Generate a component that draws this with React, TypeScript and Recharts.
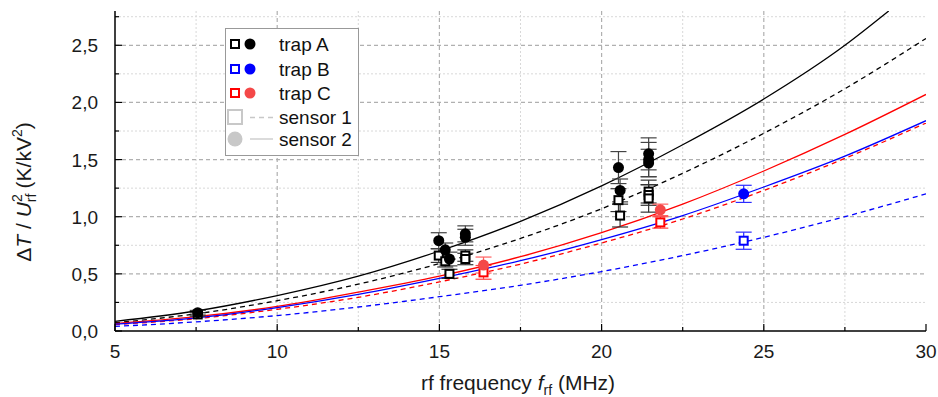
import React from 'react';
import { ComposedChart, Line, Scatter, XAxis, YAxis, ErrorBar, CartesianGrid } from 'recharts';

const W = 938;
const H = 397;
const FONT = '"Liberation Sans", Arial, sans-serif';

// fit curves, every 2.5 MHz (value in K/kV^2)
const FIT_F = [5, 7.5, 10, 12.5, 15, 17.5, 20, 22.5, 25, 27.5, 30];
const FIT_F_A2 = [5, 7.5, 10, 12.5, 15, 17.5, 20, 22.5, 25, 27.5, 28.85]; // leaves the frame at ~28.85
const FIT_A_S2 = [0.085, 0.175, 0.31, 0.48, 0.7, 0.96, 1.27, 1.63, 2.03, 2.5, 2.8];
const FIT_A_S1 = [0.072, 0.15, 0.265, 0.41, 0.59, 0.81, 1.07, 1.38, 1.73, 2.12, 2.56];
const FIT_C_S2 = [0.065, 0.125, 0.215, 0.34, 0.48, 0.65, 0.86, 1.11, 1.4, 1.72, 2.07];
const FIT_B_S2 = [0.06, 0.115, 0.205, 0.32, 0.46, 0.615, 0.8, 1.01, 1.26, 1.53, 1.84];
const FIT_C_S1 = [0.056, 0.108, 0.19, 0.295, 0.43, 0.585, 0.77, 0.98, 1.23, 1.51, 1.82];
const FIT_B_S1 = [0.04, 0.08, 0.135, 0.21, 0.3, 0.4, 0.52, 0.66, 0.82, 1.0, 1.2];

// measured points: [f, value, error]
const TRAP_A_S1 = [
  [7.55, 0.145, 0.015], [14.98, 0.66, 0.06], [15.18, 0.61, 0.05], [15.31, 0.5, 0.04],
  [15.8, 0.66, 0.05], [15.8, 0.63, 0.05], [20.52, 1.145, 0.1], [20.57, 1.01, 0.1],
  [21.45, 1.22, 0.1], [21.45, 1.19, 0.09], [21.45, 1.16, 0.12],
];
const TRAP_A_S2 = [
  [7.55, 0.16, 0.02], [14.98, 0.79, 0.07], [15.18, 0.71, 0.06], [15.31, 0.63, 0.06],
  [15.8, 0.85, 0.07], [15.8, 0.82, 0.07], [20.52, 1.43, 0.14], [20.57, 1.23, 0.1],
  [21.45, 1.55, 0.14], [21.45, 1.5, 0.15], [21.45, 1.47, 0.12],
];
const TRAP_B_S1 = [[24.38, 0.79, 0.075]];
const TRAP_B_S2 = [[24.38, 1.2, 0.075]];
const TRAP_C_S1 = [[16.36, 0.513, 0.06], [21.81, 0.95, 0.05]];
const TRAP_C_S2 = [[16.36, 0.577, 0.07], [21.81, 1.06, 0.05]];

const X_TICKS = [5, 7.5, 10, 12.5, 15, 17.5, 20, 22.5, 25, 27.5, 30];
const X_MAJOR = [5, 10, 15, 20, 25, 30];
const Y_TICKS = [0, 0.25, 0.5, 0.75, 1, 1.25, 1.5, 1.75, 2, 2.25, 2.5, 2.75];
const Y_MAJOR = [0, 0.5, 1, 1.5, 2, 2.5];

const BLACK = '#000000';
const BLUE = '#0000ff';
const RED = '#ff0000';
const RED_DOT = '#f44848';
const GRAY = '#c8c8c8';

const rows = (fs: number[], vs: number[]) => fs.map((f, i) => ({ f, v: vs[i] }));
const pts = (list: number[][]) => list.map(([f, v, e]) => ({ f, v, e }));

const squareShape = (color: string) => (p: any) => (
  <rect x={p.cx - 4} y={p.cy - 4} width={8} height={8} fill="#fff" stroke={color} strokeWidth={2} />
);
const dotShape = (color: string) => (p: any) => <circle cx={p.cx} cy={p.cy} r={5.5} fill={color} />;

const isMajor = (list: number[], v: number) => list.includes(v);

function BottomTick(props: any) {
  const { x, y, payload } = props;
  const major = isMajor(X_MAJOR, payload.value);
  return (
    <g>
      <line x1={x} y1={y} x2={x} y2={y - (major ? 7 : 4)} stroke="#000" strokeWidth={1.2} />
      {major && (
        <text x={x} y={y + 27} textAnchor="middle" fontSize={19} fontFamily={FONT} fill="#1a1a1a">
          {payload.value}
        </text>
      )}
    </g>
  );
}

function TopTick(props: any) {
  const { x, y, payload } = props;
  const major = isMajor(X_MAJOR, payload.value);
  return <line x1={x} y1={y} x2={x} y2={y + (major ? 7 : 4)} stroke="#000" strokeWidth={1.2} />;
}

function LeftTick(props: any) {
  const { x, y, payload } = props;
  const major = isMajor(Y_MAJOR, payload.value);
  return (
    <g>
      <line x1={x} y1={y} x2={x + (major ? 7 : 4)} y2={y} stroke="#000" strokeWidth={1.2} />
      {major && (
        <text x={x - 17} y={y + 7} textAnchor="end" fontSize={19} fontFamily={FONT} fill="#1a1a1a">
          {payload.value.toFixed(1).replace('.', ',')}
        </text>
      )}
    </g>
  );
}

function RightTick(props: any) {
  const { x, y, payload } = props;
  const major = isMajor(Y_MAJOR, payload.value);
  return <line x1={x} y1={y} x2={x - (major ? 7 : 4)} y2={y} stroke="#000" strokeWidth={1.2} />;
}

function Overlay() {
  const legendRows = [
    { y: 44, label: 'trap A', sq: BLACK, dot: BLACK },
    { y: 69, label: 'trap B', sq: BLUE, dot: BLUE },
    { y: 93, label: 'trap C', sq: RED, dot: RED_DOT },
  ];
  return (
    <svg width={W} height={H} style={{ position: 'absolute', left: 0, top: 0, pointerEvents: 'none' }}>
      <text transform="translate(31,192) rotate(-90)" textAnchor="middle" fontSize={21} fontFamily={FONT} fill="#1a1a1a">
        <tspan>Δ</tspan>
        <tspan fontStyle="italic">T</tspan>
        <tspan> / </tspan>
        <tspan fontStyle="italic">U</tspan>
        <tspan fontSize={14} dy={5}>rf</tspan>
        <tspan fontSize={14} dx={-8.5} dy={-14}>2</tspan>
        <tspan dy={9}> (K/kV</tspan>
        <tspan fontSize={14} dy={-9}>2</tspan>
        <tspan dy={9}>)</tspan>
      </text>
      <text x={518} y={390} textAnchor="middle" fontSize={21} fontFamily={FONT} fill="#1a1a1a">
        <tspan>rf frequency </tspan>
        <tspan fontStyle="italic">f</tspan>
        <tspan fontSize={14} dy={5}>rf</tspan>
        <tspan dy={-5}> (MHz)</tspan>
      </text>

      <rect x={225.5} y={28.5} width={133} height={127} fill="#fff" stroke="#999" strokeWidth={1} />
      {legendRows.map(r => (
        <g key={r.label}>
          <rect x={231} y={r.y - 4} width={8} height={8} fill="#fff" stroke={r.sq} strokeWidth={2} />
          <circle cx={250} cy={r.y} r={5.5} fill={r.dot} />
          <text x={279} y={r.y + 7} fontSize={19} fontFamily={FONT} fill="#111">{r.label}</text>
        </g>
      ))}
      <rect x={228} y={110} width={14} height={14} fill="#fff" stroke={GRAY} strokeWidth={2} />
      <line x1={250} y1={117.5} x2={273} y2={117.5} stroke={GRAY} strokeWidth={1.3} strokeDasharray="5 4" />
      <text x={279} y={124} fontSize={19} fontFamily={FONT} fill="#111">sensor 1</text>
      <circle cx={235} cy={139} r={7.5} fill={GRAY} />
      <line x1={250} y1={139} x2={273} y2={139} stroke={GRAY} strokeWidth={1.3} />
      <text x={279} y={146} fontSize={19} fontFamily={FONT} fill="#111">sensor 2</text>
    </svg>
  );
}

const fitLines = [
  { key: 'a2', data: rows(FIT_F_A2, FIT_A_S2), color: BLACK, dash: undefined },
  { key: 'a1', data: rows(FIT_F, FIT_A_S1), color: BLACK, dash: '5 4' },
  { key: 'c2', data: rows(FIT_F, FIT_C_S2), color: RED, dash: undefined },
  { key: 'c1', data: rows(FIT_F, FIT_C_S1), color: RED, dash: '5 4' },
  { key: 'b2', data: rows(FIT_F, FIT_B_S2), color: BLUE, dash: undefined },
  { key: 'b1', data: rows(FIT_F, FIT_B_S1), color: BLUE, dash: '5 4' },
];

const pointSets = [
  { key: 'as1', data: pts(TRAP_A_S1), shape: squareShape(BLACK), err: '#333' },
  { key: 'bs1', data: pts(TRAP_B_S1), shape: squareShape(BLUE), err: '#2b2bff' },
  { key: 'cs1', data: pts(TRAP_C_S1), shape: squareShape(RED), err: '#ff4040' },
  { key: 'as2', data: pts(TRAP_A_S2), shape: dotShape(BLACK), err: '#444' },
  { key: 'bs2', data: pts(TRAP_B_S2), shape: dotShape(BLUE), err: '#2b2bff' },
  { key: 'cs2', data: pts(TRAP_C_S2), shape: dotShape(RED_DOT), err: '#ff6060' },
];

export default function App() {
  return (
    <div style={{ position: 'relative', width: W, height: H, background: '#fff' }}>
      <style>{'body{margin:0}'}</style>
      <ComposedChart width={W} height={H} margin={{ top: 11, right: 12, bottom: 0, left: 0 }}>
        <CartesianGrid
          horizontalValues={[0.25, 0.75, 1.25, 1.75, 2.25, 2.75]}
          verticalValues={[7.5, 12.5, 17.5, 22.5, 27.5]}
          stroke="#d8d8d8"
          strokeDasharray="2 2"
        />
        <CartesianGrid
          horizontalValues={[0.5, 1, 1.5, 2, 2.5]}
          verticalValues={[10, 15, 20, 25]}
          stroke="#b0b0b0"
          strokeDasharray="4 3"
          strokeWidth={1.2}
        />
        <XAxis
          dataKey="f"
          type="number"
          domain={[5, 30]}
          allowDataOverflow
          ticks={X_TICKS}
          interval={0}
          height={66}
          tickSize={0}
          tickMargin={0}
          tickLine={false}
          tick={<BottomTick />}
          axisLine={{ stroke: '#000', strokeWidth: 1.5 }}
        />
        <XAxis
          xAxisId="top"
          orientation="top"
          dataKey="f"
          type="number"
          domain={[5, 30]}
          allowDataOverflow
          ticks={X_TICKS}
          interval={0}
          height={0}
          tickSize={0}
          tickMargin={0}
          tickLine={false}
          tick={<TopTick />}
          axisLine={{ stroke: '#000', strokeWidth: 1.5 }}
        />
        <YAxis
          dataKey="v"
          type="number"
          domain={[0, 2.8]}
          allowDataOverflow
          ticks={Y_TICKS}
          interval={0}
          width={115}
          tickSize={0}
          tickMargin={0}
          tickLine={false}
          tick={<LeftTick />}
          axisLine={{ stroke: '#000', strokeWidth: 1.5 }}
        />
        <YAxis
          yAxisId="right"
          orientation="right"
          dataKey="v"
          type="number"
          domain={[0, 2.8]}
          allowDataOverflow
          ticks={Y_TICKS}
          interval={0}
          width={0}
          tickSize={0}
          tickMargin={0}
          tickLine={false}
          tick={<RightTick />}
          axisLine={{ stroke: '#000', strokeWidth: 1.5 }}
        />
        {fitLines.map(l => (
          <Line
            key={l.key}
            data={l.data}
            dataKey="v"
            type="monotone"
            stroke={l.color}
            strokeWidth={1.3}
            strokeDasharray={l.dash}
            dot={false}
            activeDot={false}
            isAnimationActive={false}
          />
        ))}
        {pointSets.map(s => (
          <Scatter key={s.key} data={s.data} shape={s.shape} isAnimationActive={false}>
            <ErrorBar dataKey="e" direction="y" width={8} stroke={s.err} strokeWidth={1.2} />
          </Scatter>
        ))}
      </ComposedChart>
      <Overlay />
    </div>
  );
}
